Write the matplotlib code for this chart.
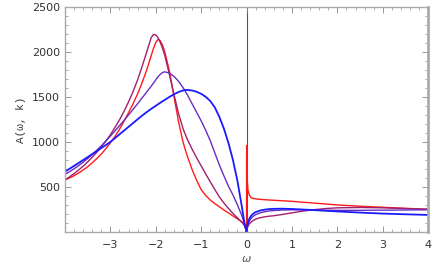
import numpy as np
import matplotlib
matplotlib.use("Agg")
import matplotlib.pyplot as plt
from matplotlib.ticker import MultipleLocator, FixedLocator

# omega grid (left branch, then right branch)
w_left = [-4.0, -3.9, -3.8, -3.7, -3.6, -3.5, -3.4, -3.3, -3.2, -3.1,
          -3.0, -2.9, -2.8, -2.7, -2.6, -2.5, -2.4, -2.3, -2.2, -2.1,
          -2.05, -2.0, -1.95, -1.9, -1.85,
          -1.8, -1.7, -1.6, -1.5, -1.4, -1.35,
          -1.3, -1.2, -1.1, -1.0, -0.9, -0.8, -0.7, -0.6, -0.5, -0.4, -0.3, -0.2, -0.1,
          -0.05, -0.02, 0.0]
w_right = [0.0, 0.002, 0.01, 0.03, 0.06, 0.1, 0.15, 0.2, 0.3, 0.4, 0.5,
           0.6, 0.8, 1.0, 1.25, 1.5, 1.75, 2.0, 2.5, 3.0, 3.5, 4.0]

red_left = [578, 600, 625, 655, 688, 725, 768, 815, 865, 925,
            990, 1060, 1140, 1230, 1325, 1425, 1535, 1660, 1800, 1960,
            2040, 2105, 2141, 2125, 2075,
            2000, 1790, 1510, 1230, 1000, 915,
            835, 695, 575, 470, 405, 355, 315, 280, 245, 212, 178, 145, 112,
            90, 50, 0]
red_right = [0, 960, 620, 470, 410, 380, 372, 368, 362, 358, 355,
             352, 346, 340, 330, 320, 310, 300, 286, 274, 262, 252]

mag_left = [578, 612, 648, 688, 730, 778, 830, 885, 945, 1010,
            1080, 1160, 1245, 1340, 1445, 1560, 1690, 1840, 2000, 2160,
            2195, 2190, 2160, 2105, 2040,
            1960, 1750, 1530, 1320, 1150, 1085,
            1025, 920, 825, 735, 645, 558, 472, 390, 322, 262, 206, 155, 105,
            72, 38, 0]
mag_right = [0, 15, 35, 60, 90, 110, 128, 142, 158, 168, 175,
             180, 195, 212, 232, 248, 260, 268, 272, 268, 260, 252]

pur_left = [640, 670, 702, 737, 775, 816, 860, 907, 957, 1010,
            1065, 1122, 1180, 1240, 1300, 1362, 1425, 1490, 1555, 1620,
            1655, 1690, 1725, 1752, 1772,
            1780, 1765, 1730, 1675, 1605, 1565,
            1520, 1425, 1330, 1235, 1130, 1015, 880, 745, 625, 510, 410, 300, 175,
            100, 45, 0]
pur_right = [0, 20, 45, 80, 120, 150, 175, 192, 212, 225, 233,
             238, 244, 246, 245, 243, 241, 240, 240, 242, 244, 246]

blue_left = [670, 702, 734, 766, 799, 832, 865, 898, 932, 966,
             1000, 1042, 1084, 1126, 1168, 1210, 1252, 1293, 1332, 1368,
             1385, 1402, 1419, 1436, 1452,
             1468, 1500, 1530, 1555, 1572, 1578,
             1578, 1572, 1558, 1535, 1502, 1455, 1385, 1280, 1150, 990, 800, 565, 270,
             110, 40, 0]
blue_right = [0, 25, 55, 100, 145, 180, 205, 220, 238, 248, 254,
              257, 258, 255, 249, 242, 235, 228, 215, 204, 196, 189]

fig = plt.figure(figsize=(4.36, 2.70), dpi=100)
ax = fig.add_axes([0.149, 0.141, 0.833, 0.833])

curves = [
    (red_left, red_right, "#ff1a1a", 1.0),
    (mag_left, mag_right, "#a0206e", 1.0),
    (pur_left, pur_right, "#6a2cc4", 1.0),
    (blue_left, blue_right, "#1a1aff", 1.3),
]
for left, right, col, lw in curves:
    ax.plot(w_left, left, color=col, lw=lw)
    ax.plot(w_right, right, color=col, lw=lw)

ax.axvline(0, color="#555555", lw=0.8, zorder=0)

ax.set_xlim(-4, 4)
ax.set_ylim(0, 2500)
ax.xaxis.set_major_locator(FixedLocator([-3, -2, -1, 0, 1, 2, 3, 4]))
ax.xaxis.set_minor_locator(MultipleLocator(0.2))
ax.yaxis.set_major_locator(FixedLocator([500, 1000, 1500, 2000, 2500]))
ax.yaxis.set_minor_locator(MultipleLocator(100))
ax.xaxis.set_major_formatter(plt.FuncFormatter(lambda v, p: f"{v:.0f}".replace("-", "\u2212")))

for s in ax.spines.values():
    s.set_color("#aaaaaa")
    s.set_linewidth(1.0)
ax.spines["right"].set_linewidth(2.0)
ax.tick_params(which="both", direction="in", top=True, right=True,
               color="#888888", labelsize=8, labelcolor="#333333")
ax.tick_params(which="major", length=4, width=0.6)
ax.tick_params(which="minor", length=2, width=0.5)
ax.tick_params(axis="x", pad=6)

ax.set_xlabel("\u03c9", fontsize=8, style="italic", color="#555555", labelpad=3)
ax.set_ylabel("A(\u03c9, k)", fontsize=8, family="Liberation Mono",
              color="#333333", labelpad=4)

fig.savefig("out.png", dpi=100)
